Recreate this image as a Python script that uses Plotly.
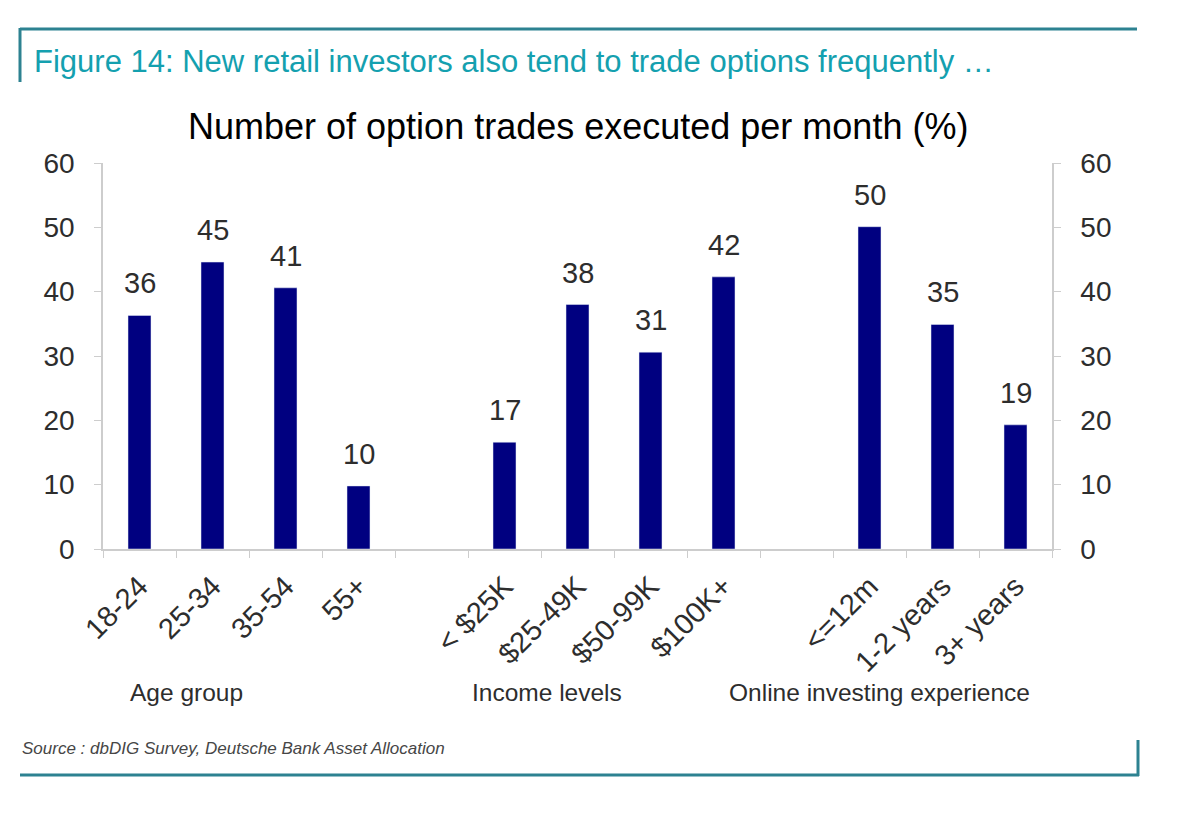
import plotly.graph_objects as go

fig_title = 'Figure 14: New retail investors also tend to trade options frequently …'
chart_title = 'Number of option trades executed per month (%)'
source = 'Source : dbDIG Survey, Deutsche Bank Asset Allocation'

age_groups = ['18-24', '25-34', '35-54', '55+']
age_values = [36.3, 44.6, 40.6, 9.8]

income_levels = ['< $25K', '$25-49K', '$50-99K', '$100K+']
income_values = [16.6, 38.0, 30.6, 42.3]

experience = ['<=12m', '1-2 years', '3+ years']
experience_values = [50.1, 34.9, 19.3]

group_names = ['Age group', 'Income levels', 'Online investing experience']

bar_color = 'rgb(0,0,128)'
teal = 'rgb(45,130,145)'
axis_grey = 'rgb(205,205,205)'
text_grey = 'rgb(45,45,45)'
font = 'Liberation Sans, Arial'

# empty slots between the groups
categories = age_groups + [' '] + income_levels + ['  '] + experience
values = age_values + [None] + income_values + [None] + experience_values

W, H = 1184, 828
OFF = 8  # page margin of the browser
# plot area as seen on screen
L, R, T, B = 103, 1052, 163, 549


def px(x):
    return (x - L) / (R - L)


def py(y):
    return (B - y) / (B - T)


fig = go.Figure()
fig.add_trace(go.Bar(
    x=categories, y=values,
    marker=dict(color=bar_color, line_width=0),
    hoverinfo='x+y',
))
# same bars on the right axis, hidden, so that axis is drawn
fig.add_trace(go.Bar(
    x=categories, y=values, yaxis='y2',
    marker=dict(color='rgba(0,0,0,0)'),
    hoverinfo='skip',
))

shapes = [
    dict(type='line', xref='paper', yref='paper', x0=px(20), x1=px(1137), y0=py(29), y1=py(29),
         line=dict(color=teal, width=3)),
    dict(type='line', xref='paper', yref='paper', x0=px(20), x1=px(20), y0=py(28), y1=py(82),
         line=dict(color=teal, width=3)),
    dict(type='line', xref='paper', yref='paper', x0=px(20), x1=px(1139), y0=py(775), y1=py(775),
         line=dict(color=teal, width=3)),
    dict(type='line', xref='paper', yref='paper', x0=px(1138), x1=px(1138), y0=py(740), y1=py(776),
         line=dict(color=teal, width=3)),
]

annotations = []
# value labels above bars
for c, v in zip(categories, values):
    if v is None:
        continue
    annotations.append(dict(xref='x', yref='y', x=c, y=v, yanchor='bottom',
                            yshift=14, text='{:.0f}'.format(v),
                            font=dict(family=font, size=29, color=text_grey),
                            showarrow=False))
annotations.append(dict(xref='paper', yref='paper', x=px(32), y=py(62),
                        xanchor='left', yanchor='middle', text=fig_title,
                        font=dict(family=font, size=31, color='rgb(20,160,175)'),
                        showarrow=False))
annotations.append(dict(xref='paper', yref='paper', x=px(578), y=py(127),
                        xanchor='center', yanchor='middle', text=chart_title,
                        font=dict(family=font, size=36, color='black'),
                        showarrow=False))
for name, cx in zip(group_names, [186, 547, 879]):
    annotations.append(dict(xref='paper', yref='paper', x=px(cx), y=py(692),
                            xanchor='center', yanchor='middle', text=name,
                            font=dict(family=font, size=24.5, color=text_grey),
                            showarrow=False))
annotations.append(dict(xref='paper', yref='paper', x=px(20), y=py(748),
                        xanchor='left', yanchor='middle', text='<i>' + source + '</i>',
                        font=dict(family=font, size=17, color='rgb(70,70,70)'),
                        showarrow=False))

yaxis_common = dict(
    range=[0, 60], dtick=10, showgrid=False, zeroline=False,
    showline=True, linecolor=axis_grey, linewidth=1.5,
    ticks='outside', ticklen=7, tickcolor=axis_grey,
    tickfont=dict(family=font, size=28, color=text_grey),
    ticklabelstandoff=14,
)

fig.update_layout(
    width=W, height=H,
    margin=dict(l=L - OFF, r=W - R + OFF, t=T - OFF, b=H - B + OFF, autoexpand=False),
    plot_bgcolor='white', paper_bgcolor='white',
    showlegend=False, barmode='overlay', bargap=0.685,
    xaxis=dict(
        type='category', categoryorder='array', categoryarray=categories,
        tickson='boundaries', ticks='outside', ticklen=7, tickcolor=axis_grey,
        showline=True, linecolor=axis_grey, linewidth=1.5, showgrid=False,
        tickangle=-45, tickfont=dict(family=font, size=29, color=text_grey),
        ticklabelstandoff=7,
    ),
    yaxis=dict(side='left', **yaxis_common),
    yaxis2=dict(side='right', overlaying='y', **yaxis_common),
    shapes=shapes,
    annotations=annotations,
)

fig.write_html('out.html')
